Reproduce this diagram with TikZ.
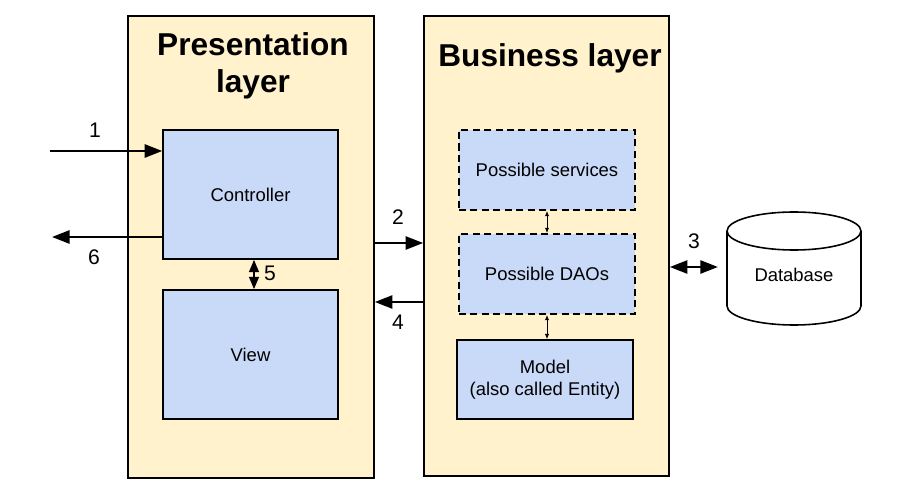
\documentclass[tikz,border=0pt]{standalone}
\usepackage{fontspec}
\setmainfont{Liberation Sans}
\usepackage{tikz}
\usetikzlibrary{arrows.meta}
\definecolor{LayerYellow}{HTML}{FFF2CC}
\definecolor{BoxBlue}{HTML}{C9DAF8}

\tikzset{
  layer/.style={draw=black,line width=1pt,fill=LayerYellow,inner sep=0pt},
  box/.style={draw=black,line width=0.9pt,fill=BoxBlue,inner sep=0pt,
    minimum width=3.5cm,font=\fontsize{10.5}{12.5}\selectfont,align=center},
  maybebox/.style={box,line width=1.1pt,dash pattern=on 4pt off 2.5pt},
  layertitle/.style={font=\fontsize{18}{21}\selectfont\bfseries,align=center},
  num/.style={font=\fontsize{12}{14}\selectfont},
  flow/.style={line width=1.2pt,-{Triangle[length=10pt,width=7.5pt]}},
  twoway/.style={line width=1.2pt,{Triangle[length=10pt,width=7.5pt]}-{Triangle[length=10pt,width=7.5pt]}},
  small/.style={line width=0.5pt,{Latex[length=3pt,width=2.5pt]}-{Latex[length=3pt,width=2.5pt]}}
}

\begin{document}
\begin{tikzpicture}[x=0.02cm,y=-0.02cm]
    \useasboundingbox (0,0) rectangle (900,500);

    % the two layers
    \node[layer,minimum width=4.92cm,minimum height=9.24cm] (pres) at (251,247) {};
    \node[layer,minimum width=4.9cm,minimum height=9.2cm] (bus) at (546.5,246) {};
    \node[layertitle] (prestitle) at (253,66) {Presentation\\layer};
    \node[layertitle] (bustitle) at (550,58) {Business layer};

    % presentation layer
    \node[box,minimum height=2.58cm] (ctrl) at (250.5,194.5) {Controller};
    \node[box,minimum height=2.58cm] (view) at (250.5,354.5) {View};

    % business layer
    \node[maybebox,minimum width=3.52cm,minimum height=1.6cm] (serv) at (547,170) {Possible services};
    \node[maybebox,minimum width=3.52cm,minimum height=1.6cm] (dao) at (547,274) {Possible DAOs};
    \node[box,minimum width=3.52cm,minimum height=1.58cm] (model) at (545,379.5) {Model\\(also called Entity)};

    % database
    \draw[line width=0.9pt,fill=white] (727,231) -- (727,306)
        arc[start angle=180,end angle=360,x radius=1.34cm,y radius=0.38cm] -- (861,231);
    \draw[line width=0.9pt,fill=white] (794,231) ellipse [x radius=1.34cm,y radius=0.38cm];
    \node[minimum width=2.68cm,minimum height=1.8cm,inner sep=0pt,font=\fontsize{10.5}{12.5}\selectfont] (db) at (794,275) {Database};

    % requests
    \coordinate (in1) at (50,151);
    \coordinate (out6) at (52,237);
    \coordinate (a2) at (400,243);
    \coordinate (a4) at (400,302);
    \draw[flow] (in1) -- (in1 -| ctrl.west);
    \draw[flow] (out6 -| ctrl.west) -- (out6);
    \draw[flow] (a2 -| pres.east) -- (a2 -| bus.west);
    \draw[flow] (a4 -| bus.west) -- (a4 -| pres.east);
    \draw[twoway] (bus.east |- 0,267) -- ([xshift=-5]db.west |- 0,267);
    \draw[line width=1.2pt,{Triangle[length=7pt,width=5.5pt]}-{Triangle[length=7pt,width=5.5pt]}] (ctrl.south -| 254,0) -- (view.north -| 254,0);
    \draw[small] (serv.south) -- (dao.north);
    \draw[small] (dao.south) -- (dao.south |- model.north);

    \node[num] (n1) at (95,130) {1};
    \node[num] (n2) at (398,217) {2};
    \node[num] (n3) at (694,241) {3};
    \node[num] (n4) at (398,322) {4};
    \node[num] (n5) at (270,273) {5};
    \node[num] (n6) at (94,257) {6};
\end{tikzpicture}
\end{document}
